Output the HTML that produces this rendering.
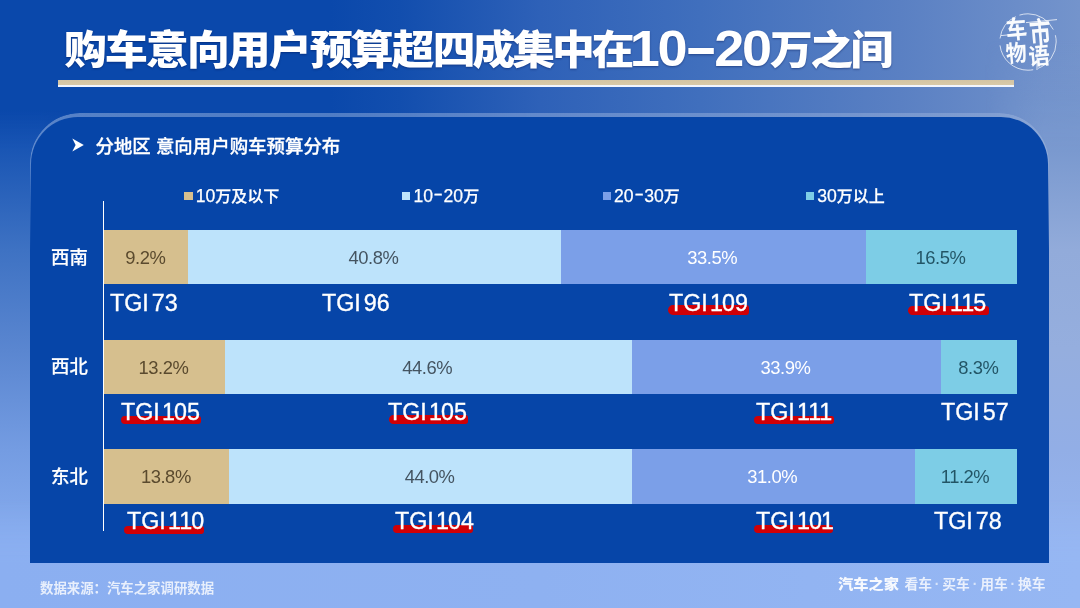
<!DOCTYPE html>
<html lang="zh-CN">
<head>
<meta charset="utf-8">
<title>购车意向用户预算超四成集中在10-20万之间</title>
<style>
*{margin:0;padding:0;box-sizing:border-box}
html,body{width:1080px;height:608px;overflow:hidden}
body{position:relative;font-family:"Liberation Sans","Noto Sans CJK SC",sans-serif;background:#0a47ab;color:#fff}
.bg{position:absolute;left:0;top:0;width:1080px;height:608px;background:linear-gradient(90deg,rgb(10,72,171) 0,rgb(10,72,171) 330px,rgb(18,78,174) 400px,rgb(46,97,184) 540px,rgb(64,111,189) 700px,rgb(90,128,195) 900px,rgb(116,148,204) 1080px)}
.bgl{position:absolute;left:0;top:110px;width:120px;height:498px;background:linear-gradient(180deg,rgba(12,74,172,0) 0,rgb(26,86,180) 40px,rgb(62,114,195) 140px,rgb(90,134,208) 240px,rgb(116,156,226) 340px,rgb(136,173,239) 440px,rgb(139,175,241) 498px);-webkit-mask-image:linear-gradient(90deg,#000 0,#000 40px,transparent 120px);mask-image:linear-gradient(90deg,#000 0,#000 40px,transparent 120px)}
.bgr{position:absolute;left:985px;top:40px;width:95px;height:568px;background:linear-gradient(180deg,rgba(116,148,204,0) 0,rgba(118,150,205,.6) 60px,rgb(122,153,207) 110px,rgb(146,171,218) 210px,rgb(149,174,222) 310px,rgb(146,174,230) 410px,rgb(150,181,240) 510px,rgb(150,183,243) 568px);-webkit-mask-image:linear-gradient(90deg,transparent 0,#000 60px);mask-image:linear-gradient(90deg,transparent 0,#000 60px)}
.bgb{position:absolute;left:0;top:500px;width:1080px;height:108px;background:linear-gradient(90deg,rgb(139,175,241) 0,rgb(142,177,241) 50%,rgb(150,183,243) 100%);-webkit-mask-image:linear-gradient(180deg,transparent 0,#000 62px);mask-image:linear-gradient(180deg,transparent 0,#000 62px)}
.title{position:absolute;left:64px;top:19.5px;height:60px;line-height:60px;font-family:"Liberation Sans","Noto Sans CJK SC",sans-serif;font-size:40px;font-weight:900;letter-spacing:-1.72px;transform:scaleX(1.07);transform-origin:0 0;white-space:nowrap;color:#fff;text-shadow:0 1px 2px rgba(0,20,80,.45)}
.title .b{letter-spacing:-2.85px}
.title .c{letter-spacing:-2.3px}
.title .n{font-size:50.5px;letter-spacing:-2.1px;line-height:1;vertical-align:-2.2px;margin-left:-1.5px;margin-right:0px}
.title .d{display:inline-block;width:27px;text-align:center;transform:translateX(-1px) scaleX(1.85) translateY(-2.2px)}
.rule{position:absolute;left:57.8px;top:80.2px;width:956.4px;height:6.8px;background:linear-gradient(180deg,#d3c4a4 0%,#d8c9a8 66%,#f2f5fd 72%,#f2f5fd 100%)}
.logo{position:absolute;left:995.5px;top:9.5px}
.ring{position:absolute;left:29.6px;top:113.3px;width:1019px;height:449px;border-radius:50px 50px 0 0;background:linear-gradient(90deg,rgba(235,242,255,.34) 0,rgba(235,242,255,.3) 40%,rgba(235,242,255,.18) 100%);-webkit-mask-image:linear-gradient(180deg,#000 0,#000 42px,rgba(0,0,0,.35) 90px,transparent 150px);mask-image:linear-gradient(180deg,#000 0,#000 42px,rgba(0,0,0,.35) 90px,transparent 150px)}
.panel{position:absolute;left:31.2px;top:117px;width:1016.4px;height:446px;background:#0645a8;border-radius:47px 47px 0 0}
.edge{position:absolute;left:29.6px;top:160px;width:1019px;height:403px;background:#0645a8;-webkit-mask-image:linear-gradient(180deg,transparent 0,#000 90px);mask-image:linear-gradient(180deg,transparent 0,#000 90px)}
.sub{position:absolute;left:95.5px;top:133.5px;height:26px;line-height:26px;font-size:18.45px;font-weight:500;-webkit-text-stroke:.3px #fff;white-space:nowrap}
.ar{position:absolute;left:72px;top:138px;width:12px;height:14px}
.axis{position:absolute;left:103px;top:201px;width:1px;height:330px;background:#fff}
.lg{position:absolute;top:184.5px;height:24px;line-height:24px;font-size:16px;font-weight:500;-webkit-text-stroke:.25px #fff;white-space:nowrap}
.lg .g{font-size:17.6px;line-height:1}
.lg .d{display:inline-block;width:10.6px;text-align:center;transform:scaleX(1.6) translateY(-1.6px)}
.lg i{position:absolute;left:-11.4px;top:7.6px;width:8.3px;height:8.2px;box-shadow:none}
.row{position:absolute;left:104px;width:913px;height:54.6px}
.row b{position:absolute;top:0;height:54.6px;padding-right:1.5px;font-weight:400;font-size:18.4px;letter-spacing:-.45px;line-height:55.6px;text-align:center;color:rgba(38,38,38,.8)}
.c1{background:#d6bf8e;box-shadow:1px 0 0 #d6bf8e}.c2{background:#bde3fb;box-shadow:1px 0 0 #bde3fb}.c3{background:#7b9fe8;box-shadow:1px 0 0 #7b9fe8}.c4{background:#7dcde6}
.row b.c3{color:#fff}.row b.c1{color:rgba(62,48,24,.82)}.row b.c2{color:rgba(38,48,58,.8)}.row b.c4{color:rgba(18,62,78,.85)}
.rl{position:absolute;left:51px;width:38px;height:26px;line-height:26px;font-weight:500;-webkit-text-stroke:.2px #fff;font-size:18.4px;white-space:nowrap}
.tgi{position:absolute;height:26px;line-height:26px;font-size:23.5px;word-spacing:-3.4px;-webkit-text-stroke:.35px #fff;white-space:nowrap;color:#fff;transform:scaleX(.99);transform-origin:0 0;z-index:2}
.tgi .o{margin:0 -.9px}
.ul{position:absolute;width:79.5px;height:8.7px;background:#d00006;border-radius:5px 3px 3px 5px;z-index:1}
.src{position:absolute;left:40px;top:579px;height:20px;line-height:20px;font-size:13.4px;font-weight:700;color:rgba(255,255,255,.8);white-space:nowrap}
.brand{position:absolute;left:838px;top:574.5px;height:20px;line-height:20px;font-size:13.75px;font-weight:700;color:rgba(255,255,255,.8);white-space:nowrap}
.brand strong{display:inline-block;font-weight:900;font-size:13.6px;transform:scaleX(1.12);transform-origin:0 50%;margin-right:12px;color:rgba(255,255,255,.92)}
.brand .dt{display:inline-block;width:10.4px;text-align:center;opacity:.8}
</style>
</head>
<body>
<div class="bg"></div><div class="bgl"></div><div class="bgr"></div><div class="bgb"></div>
<div class="title">购车意向用户预算超<span class="b">四成集中在</span><span class="n">10<span class="d">-</span>20</span><span class="c">万之间</span></div>
<div class="rule"></div>
<svg class="logo" viewBox="0 0 64 64" width="64" height="64">
<circle cx="32" cy="32" r="28.2" fill="none" stroke="#fff" stroke-opacity=".7" stroke-width="1" stroke-dasharray="34 5 46 7 28 4 40 6"/>
<g stroke="#fff" stroke-opacity=".85" stroke-width=".9"><line x1="5" y1="25.6" x2="31" y2="23"/><line x1="30" y1="12.6" x2="61" y2="9.6"/><line x1="41" y1="38" x2="41" y2="60"/></g>
<g transform="rotate(-5 32 32)" font-family="Liberation Sans, Noto Sans CJK SC, sans-serif" font-weight="700" font-size="20.5" fill="#fff" fill-opacity=".96">
<text transform="translate(11 27.4) scale(1.02 1.22)">车</text><text transform="translate(34.3 34.4) scale(1.04 1.46)">市</text>
<text transform="translate(8.8 50.2) scale(1.02 1.12)">物</text><text transform="translate(31.3 55.2) scale(1.04 1.12)">语</text>
</g>
</svg>
<div class="ring"></div><div class="edge"></div><div class="panel"></div>
<svg class="ar" viewBox="0 0 12 14"><path d="M0.3 0.6 L11.8 7 L0.3 13.4 L3.6 7 Z" fill="#fff"/></svg>
<div class="sub">分地区 意向用户购车预算分布</div>
<div class="axis"></div>

<div class="lg" style="left:195.7px"><i class="c1"></i><span class="g">10</span>万及以下</div>
<div class="lg" style="left:413.4px"><i class="c2"></i><span class="g">10<span class="d">-</span>20</span>万</div>
<div class="lg" style="left:614px"><i class="c3"></i><span class="g">20<span class="d">-</span>30</span>万</div>
<div class="lg" style="left:817.2px"><i class="c4"></i><span class="g">30</span>万以上</div>

<div class="rl" style="top:244.5px">西南</div>
<div class="row" style="top:229.8px">
 <b class="c1" style="left:0;width:84px">9.2%</b><b class="c2" style="left:84px;width:372.5px">40.8%</b><b class="c3" style="left:456.5px;width:305px">33.5%</b><b class="c4" style="left:761.5px;width:151.5px">16.5%</b>
</div>

<div class="tgi" style="left:110.2px;top:290.3px">TGI 73</div>
<div class="tgi" style="left:321.7px;top:290.3px">TGI 96</div>
<div class="ul" style="left:668px;top:305.3px;height:9.3px;width:81px"></div><div class="tgi" style="left:669.2px;top:290.3px">TGI <span class="o">1</span>09</div>
<div class="ul" style="left:907.5px;top:306.2px;height:9.3px;width:81px"></div><div class="tgi" style="left:909.2px;top:290.3px">TGI <span class="o">1</span><span class="o">1</span>5</div>

<div class="rl" style="top:354px">西北</div>
<div class="row" style="top:339.5px">
 <b class="c1" style="left:0;width:120.5px">13.2%</b><b class="c2" style="left:120.5px;width:407px">44.6%</b><b class="c3" style="left:527.5px;width:309.5px">33.9%</b><b class="c4" style="left:837px;width:76px">8.3%</b>
</div>

<div class="ul" style="left:121.4px;top:415.5px"></div><div class="tgi" style="left:120.6px;top:398.5px">TGI <span class="o">1</span>05</div>
<div class="ul" style="left:388.5px;top:415.2px"></div><div class="tgi" style="left:387.5px;top:398.5px">TGI <span class="o">1</span>05</div>
<div class="ul" style="left:754.3px;top:415.5px"></div><div class="tgi" style="left:756.1px;top:398.5px">TGI <span class="o">1</span><span class="o">1</span><span class="o">1</span></div>
<div class="tgi" style="left:941.4px;top:398.5px">TGI 57</div>

<div class="rl" style="top:464px">东北</div>
<div class="row" style="top:449.4px">
 <b class="c1" style="left:0;width:125.2px">13.8%</b><b class="c2" style="left:125.2px;width:402.3px">44.0%</b><b class="c3" style="left:527.5px;width:283px">31.0%</b><b class="c4" style="left:810.5px;width:102.5px">11.2%</b>
</div>

<div class="ul" style="left:124.3px;top:525.6px;height:8.3px"></div><div class="tgi" style="left:127.2px;top:508.3px">TGI <span class="o">1</span><span class="o">1</span>0</div>
<div class="ul" style="left:393px;top:524.8px;height:8.3px"></div><div class="tgi" style="left:394.8px;top:508.3px">TGI <span class="o">1</span>04</div>
<div class="ul" style="left:753.5px;top:525px;height:8.3px"></div><div class="tgi" style="left:756.1px;top:508.3px">TGI <span class="o">1</span>0<span class="o">1</span></div>
<div class="tgi" style="left:933.6px;top:508.3px">TGI 78</div>

<div class="src">数据来源：汽车之家调研数据</div>
<div class="brand"><strong>汽车之家</strong>看车<span class="dt">·</span>买车<span class="dt">·</span>用车<span class="dt">·</span>换车</div>
</body>
</html>
